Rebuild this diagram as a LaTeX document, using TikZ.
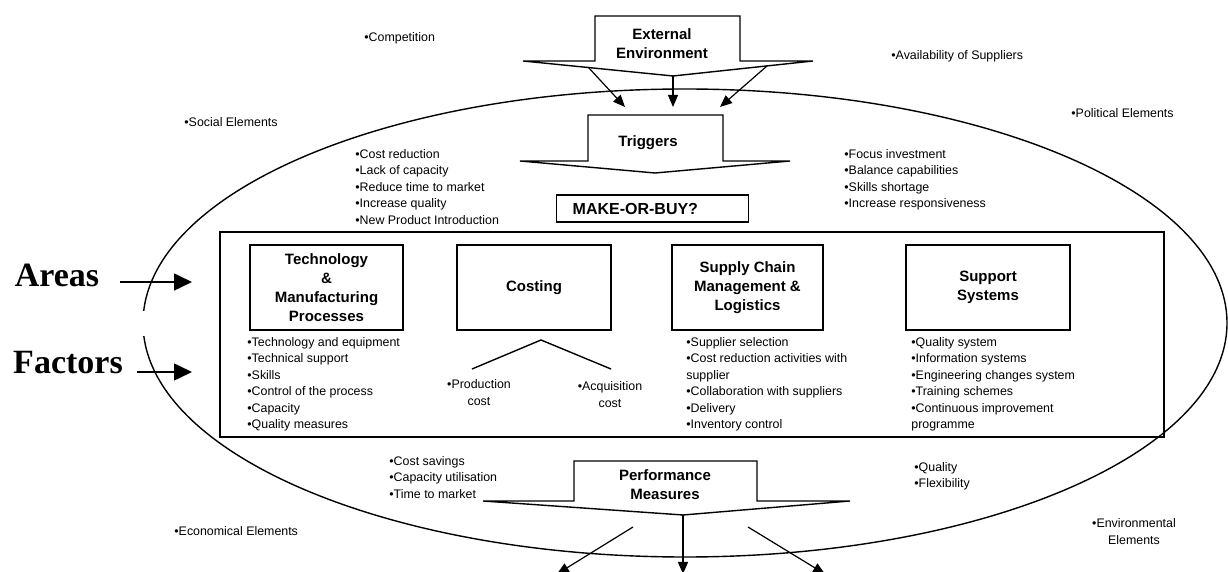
\documentclass[tikz,border=0pt]{standalone}
\usepackage{fontspec}
\setmainfont{Liberation Sans}
\newfontfamily\bigserif{Liberation Serif}
\usetikzlibrary{arrows.meta,shapes.geometric}

\begin{document}
\begin{tikzpicture}[x=0.5pt,y=-0.5pt,
  every node/.style={inner sep=0pt},
  item/.style={font=\fontsize{6.2}{8.25}\selectfont, align=left, anchor=north west},
  note/.style={font=\fontsize{6.2}{8.5}\selectfont, align=center},
  title/.style={font=\fontsize{7.5}{9.4}\selectfont\bfseries, align=center},
  areabox/.style={draw, line width=0.7pt, minimum height=42.5pt, title},
  blockarrow/.style={draw, fill=white, line width=0.7pt, line join=miter},
  thinarrow/.style={line width=0.6pt, -{Triangle[length=6pt,width=5pt]}},
  bigarrow/.style={line width=0.8pt, -{Triangle[length=9pt,width=8.5pt]}},
  sidelabel/.style={font=\bigserif\bfseries\fontsize{17}{17}\selectfont},
  plain/.style={line width=0.7pt},
]
\useasboundingbox (0,0) rectangle (1228,572);

% outer boundary of the make-or-buy context
\node[draw, ellipse, line width=0.7pt, minimum width=542pt, minimum height=234pt] (context) at (685,323) {};
\fill[white] (136,311) rectangle (150,336);

% environment elements around the boundary
\node[item] (competition) at (364,32) {•Competition};
\node[item] (suppliers) at (891,50) {•Availability of Suppliers};
\node[item] (political) at (1071,108) {•Political Elements};
\node[item] (social) at (184,117) {•Social Elements};
\node[item] (economical) at (174,526) {•Economical Elements};
\node[note] (environmental) at (1134,531.5) {•Environmental\\Elements};

% external environment block arrow
\draw[blockarrow] (523,61) -- (595,61) -- (595,16) -- (740,16) -- (740,61) -- (813,61) -- (673,76) -- cycle;
\node[title] (ext) at (662,44) {External\\Environment};
\coordinate (ext-l) at (588,67);
\coordinate (ext-m) at (673,76);
\coordinate (ext-r) at (767,66);
\coordinate (trg-l) at (625,107);
\coordinate (trg-m) at (673,107);
\coordinate (trg-r) at (720,107);
\draw[thinarrow] (ext-l) -- (trg-l);
\draw[thinarrow] (ext-m) -- (trg-m);
\draw[thinarrow] (ext-r) -- (trg-r);

% triggers block arrow
\draw[blockarrow] (520,161) -- (588,161) -- (588,115) -- (723,115) -- (723,161) -- (790,161) -- (655,173) -- cycle;
\node[title] (triggers) at (648,143) {Triggers};

\node[item] (trig-left) at (355,149) {•Cost reduction\\•Lack of capacity\\•Reduce time to market\\•Increase quality\\•New Product Introduction};
\node[item] (trig-right) at (844,149) {•Focus investment\\•Balance capabilities\\•Skills shortage\\•Increase responsiveness};

% decision
\node[draw, line width=0.7pt, anchor=west, minimum height=13.5pt, inner xsep=8pt, text width=80pt, align=left,
      font=\fontsize{8}{10}\selectfont\bfseries] (mob) at (556,208.5) {MAKE-OR-BUY?};

% areas frame
\node[draw, line width=0.7pt, minimum width=472pt, minimum height=102.5pt] (frame) at (692,334.5) {};

\node[areabox, minimum width=76.5pt] (tech) at (326.5,287.5) {Technology\\\&\\Manufacturing\\Processes};
\node[areabox, minimum width=77pt] (costing) at (534,287.5) {Costing};
\node[areabox, minimum width=75.5pt] (supply) at (747.5,287.5) {Supply Chain\\Management \&\\Logistics};
\node[areabox, minimum width=82pt] (support) at (988,287.5) {Support\\Systems};

% factors
\node[item] (tech-list) at (247,337) {•Technology and equipment\\•Technical support\\•Skills\\•Control of the process\\•Capacity\\•Quality measures};
\node[item] (supply-list) at (686,337) {•Supplier selection\\•Cost reduction activities with\\supplier\\•Collaboration with suppliers\\•Delivery\\•Inventory control};
\node[item] (support-list) at (911,337) {•Quality system\\•Information systems\\•Engineering changes system\\•Training schemes\\•Continuous improvement\\programme};

\node[note] (prodcost) at (479,392.5) {•Production\\cost};
\node[note] (acqcost) at (610,395) {•Acquisition\\cost};
\coordinate (cost-peak) at (541,340);
\coordinate (cost-left) at (472,369);
\coordinate (cost-right) at (611,369);
\draw[plain] (cost-left) -- (cost-peak) -- (cost-right);

% side labels
\node[sidelabel] (areas-lbl) at (57,275) {Areas};
\node[sidelabel] (factors-lbl) at (68,363) {Factors};
\coordinate (areas-out) at (120,282);
\coordinate (areas-in) at (192,282);
\coordinate (factors-out) at (137,372);
\coordinate (factors-in) at (192,372);
\draw[bigarrow] (areas-out) -- (areas-in);
\draw[bigarrow] (factors-out) -- (factors-in);

% performance measures block arrow
\draw[blockarrow] (483,501) -- (574,501) -- (574,461) -- (757,461) -- (757,501) -- (850,501) -- (683,515) -- cycle;
\node[title] (perf) at (665,484.5) {Performance\\Measures};
\node[item] (perf-left) at (389,456) {•Cost savings\\•Capacity utilisation\\•Time to market};
\node[item] (perf-right) at (914,462) {•Quality\\•Flexibility};
\coordinate (perf-l) at (633,527);
\coordinate (perf-m) at (683,515);
\coordinate (perf-r) at (748,527);
\coordinate (out-l) at (557,574);
\coordinate (out-m) at (683,574);
\coordinate (out-r) at (825,574);
\draw[thinarrow] (perf-l) -- (out-l);
\draw[thinarrow] (perf-m) -- (out-m);
\draw[thinarrow] (perf-r) -- (out-r);
\end{tikzpicture}
\end{document}
